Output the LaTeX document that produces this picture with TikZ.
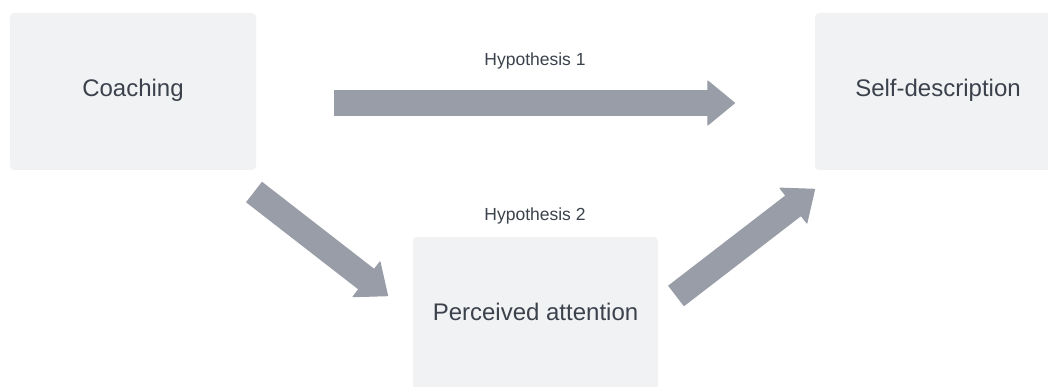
\documentclass[tikz,border=0pt]{standalone}
\usepackage{fontspec}
\setmainfont{Liberation Sans}
\usetikzlibrary{arrows.meta}
\definecolor{boxgray}{HTML}{F1F2F4}
\definecolor{arrowgray}{HTML}{989DA7}
\definecolor{textgray}{HTML}{3B424C}
\begin{document}
\begin{tikzpicture}[x=1pt,y=-1pt,
  box/.style={fill=boxgray,rounded corners=4pt,minimum width=246pt,minimum height=157pt,
    text=textgray,font=\fontsize{24}{28}\selectfont,text height=17.5pt,text depth=8.4pt},
  hyp/.style={text=textgray,font=\fontsize{17.5}{20}\selectfont,anchor=base,inner sep=0pt},
  fat/.style={draw=arrowgray,line width=26pt,
    -{Triangle[length=28pt,width=46pt,line width=1pt,round]}}]
  \useasboundingbox (0,0) rectangle (1048,387);
  \clip (0,0) rectangle (1048,387);
  \node[box] (coach) at (133,91.5) {Coaching};
  \node[box] (self) at (938,91.5) {Self-description};
  \node[box,minimum width=245pt] (attn) at (535.5,315.5) {Perceived attention};
  \node[hyp] (hyp1) at (535,66) {Hypothesis 1};
  \node[hyp] (hyp2) at (535,221) {Hypothesis 2};
  \coordinate (h1a) at (334,103);
  \coordinate (h1b) at (735,103);
  \coordinate (h2a) at (254,192);
  \coordinate (h2b) at (388,296);
  \coordinate (h3a) at (676,296);
  \coordinate (h3b) at (815,189);
  \draw[fat] (h1a) -- (h1b);
  \draw[fat] (h2a) -- (h2b);
  \draw[fat] (h3a) -- (h3b);
\end{tikzpicture}
\end{document}
